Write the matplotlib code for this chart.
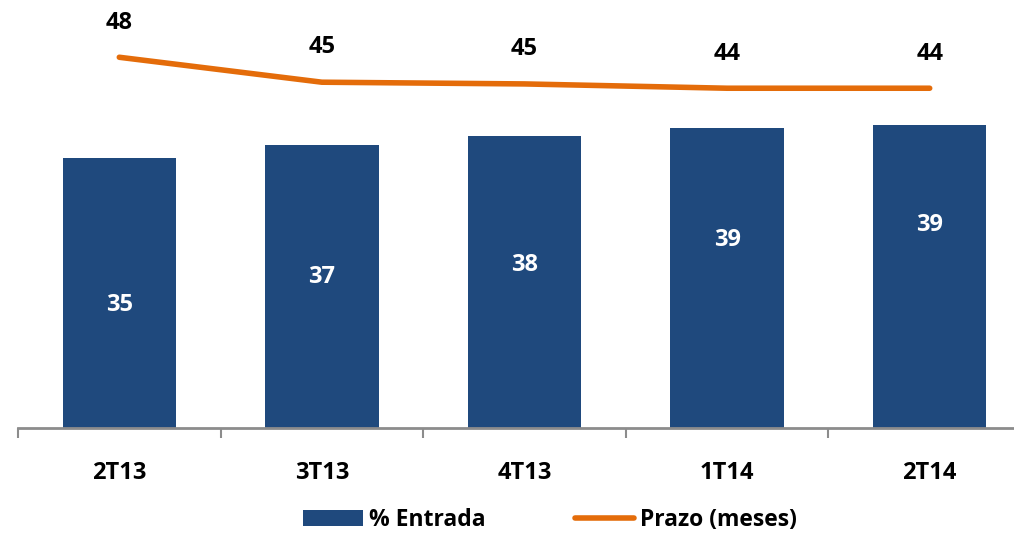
import matplotlib
matplotlib.use('Agg')
import matplotlib.pyplot as plt

plt.rcParams['font.family'] = ['Open Sans', 'DejaVu Sans']
plt.rcParams['font.weight'] = 'bold'

# data
quarters = ['2T13', '3T13', '4T13', '1T14', '2T14']
entrada = [35.1, 36.8, 38.0, 39.0, 39.4]   # % Entrada (bars)
prazo = [47.8, 44.9, 44.7, 44.2, 44.2]     # Prazo em meses (line)
entrada_label_y = [16.0, 19.6, 21.2, 24.4, 26.4]  # where the white labels sit

bar_color = '#1F497D'
line_color = '#E46C0A'
axis_grey = '#8C8C8C'
fs = 17

fig = plt.figure(figsize=(10.14, 5.34), dpi=100)
ax = fig.add_axes([18 / 1014, 106 / 534, 1013 / 1014, 384.5 / 534])
x = list(range(len(quarters)))

bars = ax.bar(x, entrada, width=0.56, color=bar_color, label='% Entrada', zorder=2)
for xi, v, ly in zip(x, entrada, entrada_label_y):
    ax.text(xi, ly, f'{v:.0f}', ha='center', va='center', color='white',
            fontsize=fs, fontweight='bold', zorder=3)

ax.set_xlim(-0.5, 4.5)
ax.set_ylim(0, 50)
ax.set_xticks([i - 0.5 for i in range(len(quarters) + 1)])
ax.set_xticklabels([])
ax.set_xticks(x, minor=True)
ax.set_xticklabels(quarters, minor=True, fontsize=fs, fontweight='bold')
ax.tick_params(axis='x', which='major', direction='out', length=7, width=1.5,
               color=axis_grey)
ax.tick_params(axis='x', which='minor', length=0, pad=24)
ax.set_yticks([])
for side in ['top', 'right', 'left']:
    ax.spines[side].set_visible(False)
ax.spines['bottom'].set_color(axis_grey)
ax.spines['bottom'].set_linewidth(2)
ax.patch.set_alpha(0)

ax2 = ax.twinx()
ax2.set_ylim(4.7, 49.4)
line, = ax2.plot(x, prazo, color=line_color, lw=4, solid_capstyle='round',
                 label='Prazo (meses)')
for xi, v in zip(x, prazo):
    ax2.annotate(f'{v:.0f}', (xi, v), xytext=(0, 25), textcoords='offset points',
                 ha='center', va='center', fontsize=fs, fontweight='bold',
                 color='black')
ax2.set_yticks([])
for side in ['top', 'right', 'left', 'bottom']:
    ax2.spines[side].set_visible(False)

fig.legend([bars, line], ['% Entrada', 'Prazo (meses)'], loc='center',
           bbox_to_anchor=(550 / 1014, 14 / 534), ncol=2, frameon=False,
           fontsize=16.5, handlelength=2.6, handletextpad=0.25, columnspacing=3.9)

fig.savefig('out.png', dpi=100)
